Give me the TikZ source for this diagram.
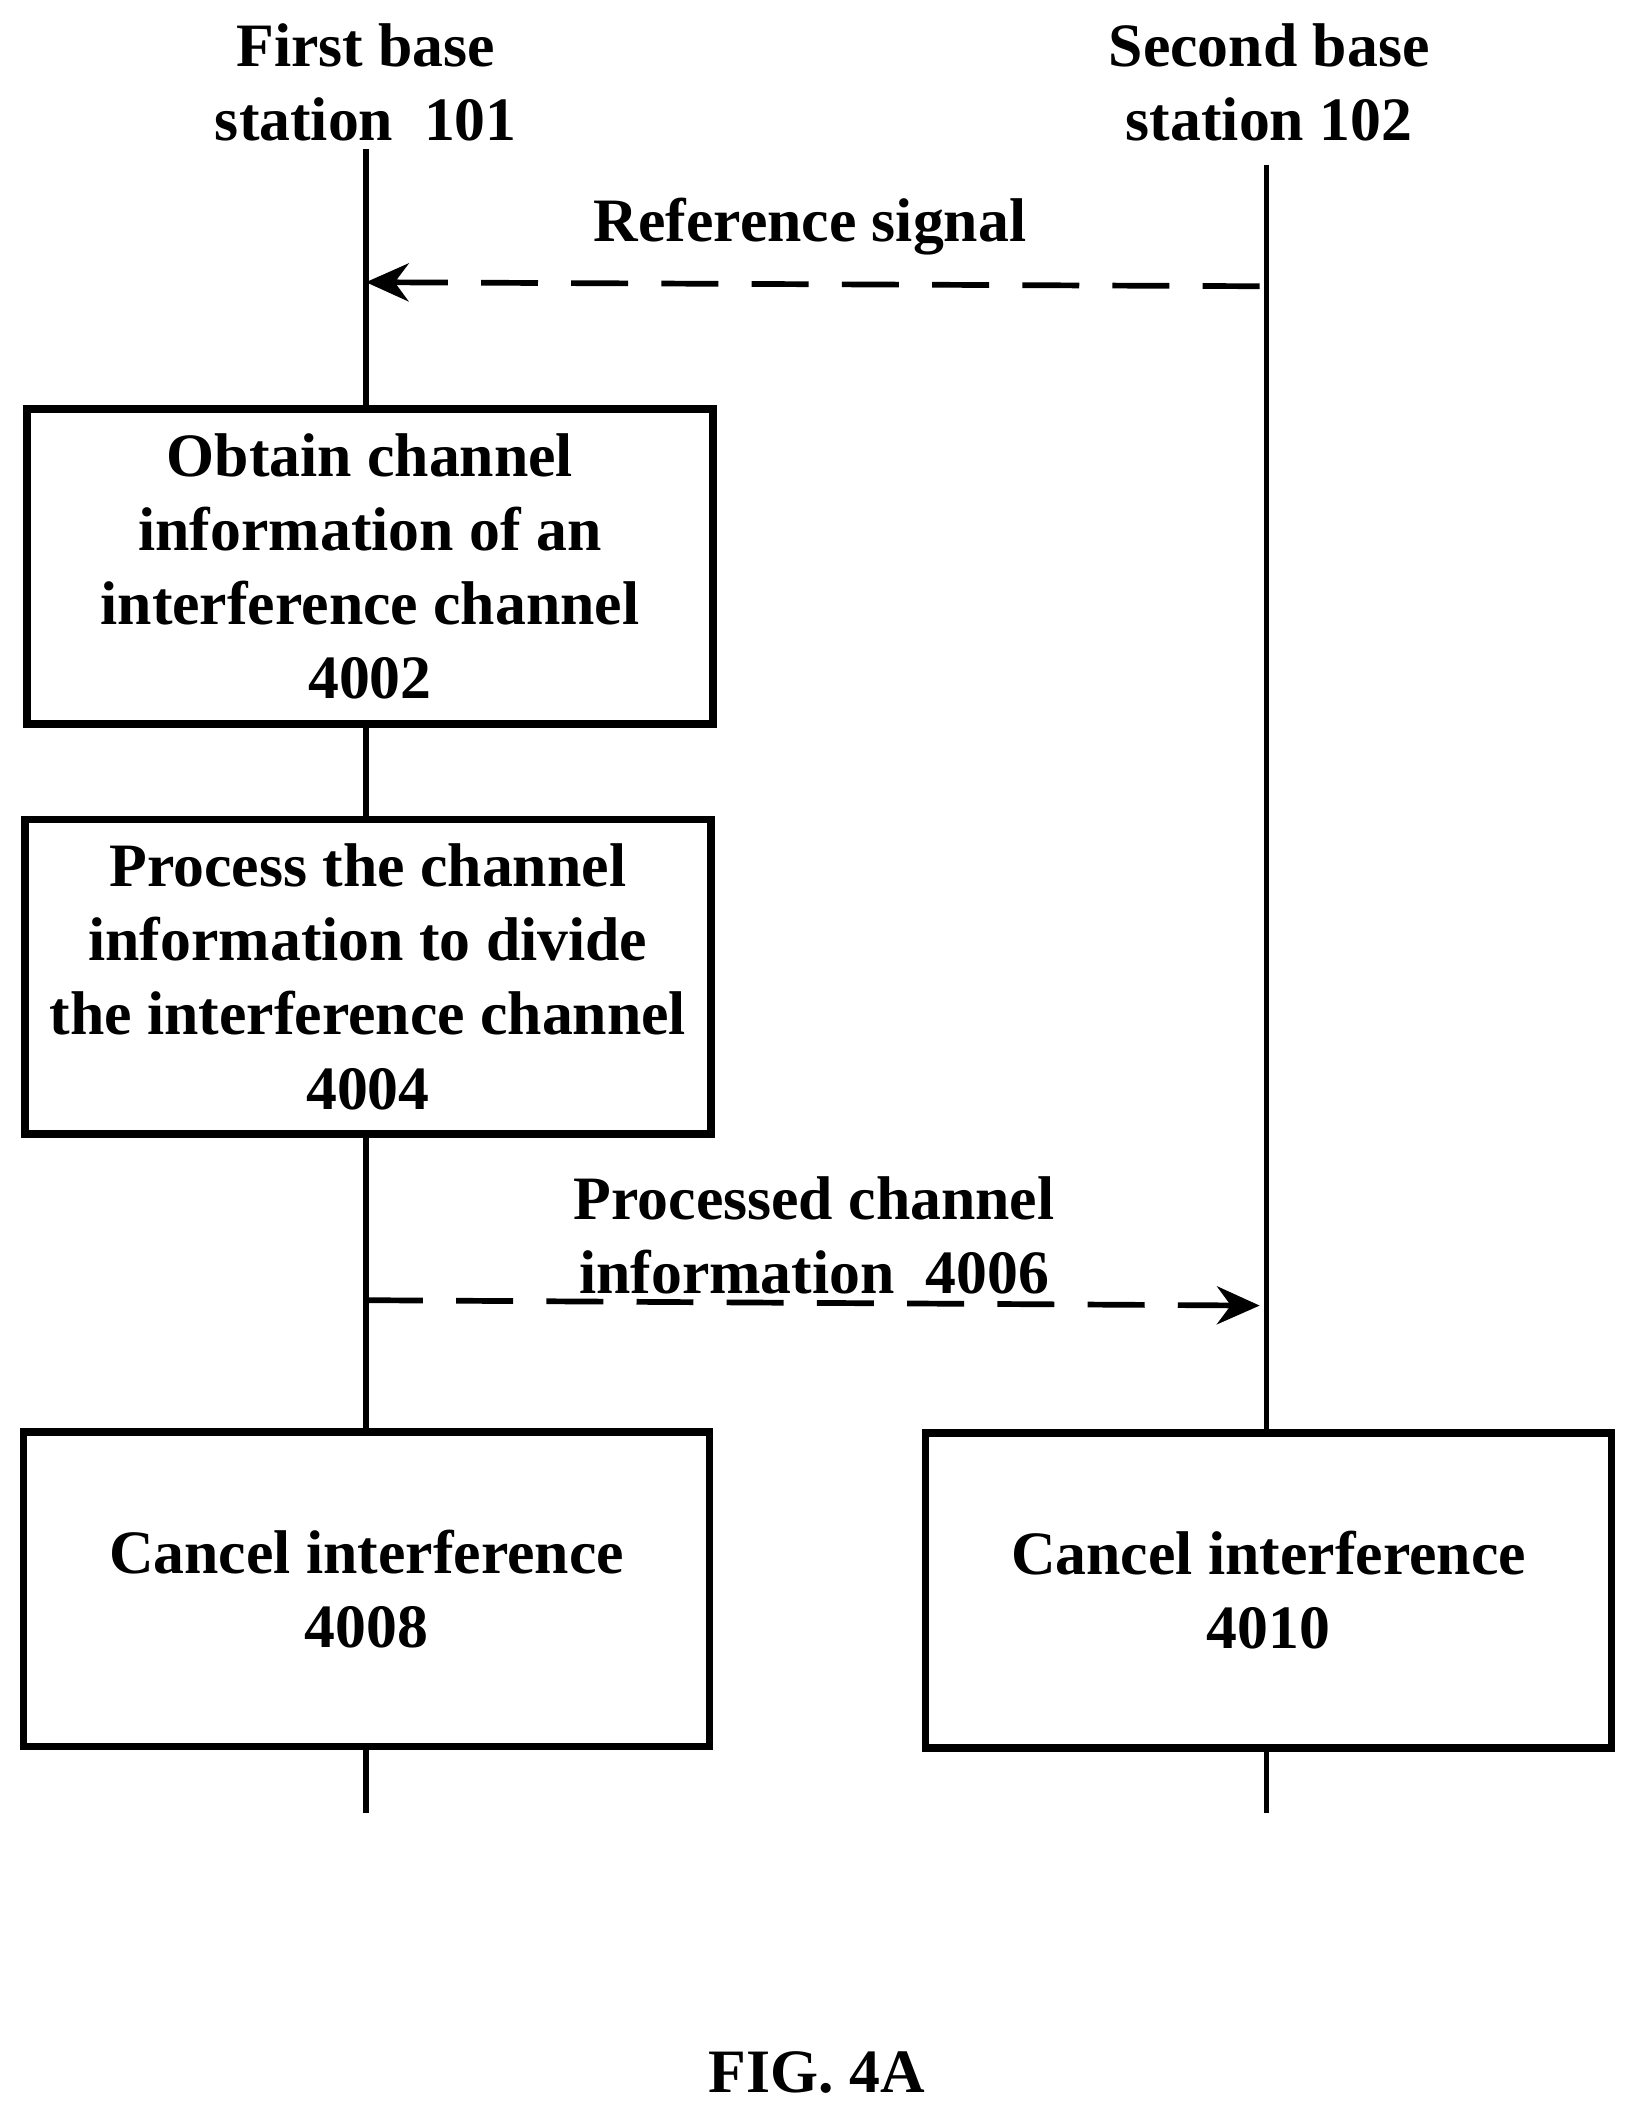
\documentclass[tikz,border=0pt]{standalone}
\usepackage{fontspec}
\setmainfont{Liberation Serif}
\usetikzlibrary{arrows.meta}
\begin{document}
\begin{tikzpicture}[x=0.01cm,y=-0.01cm,
  box/.style={draw,line width=1.6pt,fill=white,font=\bfseries\fontsize{13}{15.6}\selectfont,align=center,inner sep=0,minimum width=5.08cm,minimum height=2.33cm},
  lbl/.style={font=\bfseries\fontsize{13}{15.6}\selectfont,align=center},
  life/.style={line width=1.2pt},
  msg/.style={line width=1.2pt,dash pattern=on 12pt off 7pt,-{Stealth[length=9pt,width=8pt]}}]
\useasboundingbox (0,0) rectangle (1210,1568);
\node[lbl] (h1) at (271,61) {First base\\station\ \ 101};
\node[lbl] (h2) at (940,61) {Second base\\station 102};
\coordinate (l1t) at (271,110); \coordinate (l1b) at (271,1343);
\coordinate (l2t) at (938,122); \coordinate (l2b) at (938,1343);
\draw[life] (l1t) -- (l1b);
\draw[life] (l2t) -- (l2b);
\node[box] (b1) at (274,419.5) {Obtain channel\\information of an\\interference channel\\4002};
\node[box] (b2) at (272.5,723.5) {Process the channel\\information to divide\\the interference channel\\4004};
\node[box] (b3) at (271.5,1177) {Cancel interference\\4008};
\node[box] (b4) at (939.5,1178) {Cancel interference\\4010};
\coordinate (r1) at (933,212); \coordinate (r2) at (271,209);
\draw[msg] (r1) -- (r2);
\node[lbl] (rl) at (600,168) {Reference signal};
\coordinate (p1) at (271,963); \coordinate (p2) at (933,967);
\draw[msg] (p1) -- (p2);
\node[lbl] (pl) at (603,915) {Processed channel\\information\ \ 4006};
\node[lbl] (fig) at (605,1535) {FIG. 4A};
\end{tikzpicture}
\end{document}
